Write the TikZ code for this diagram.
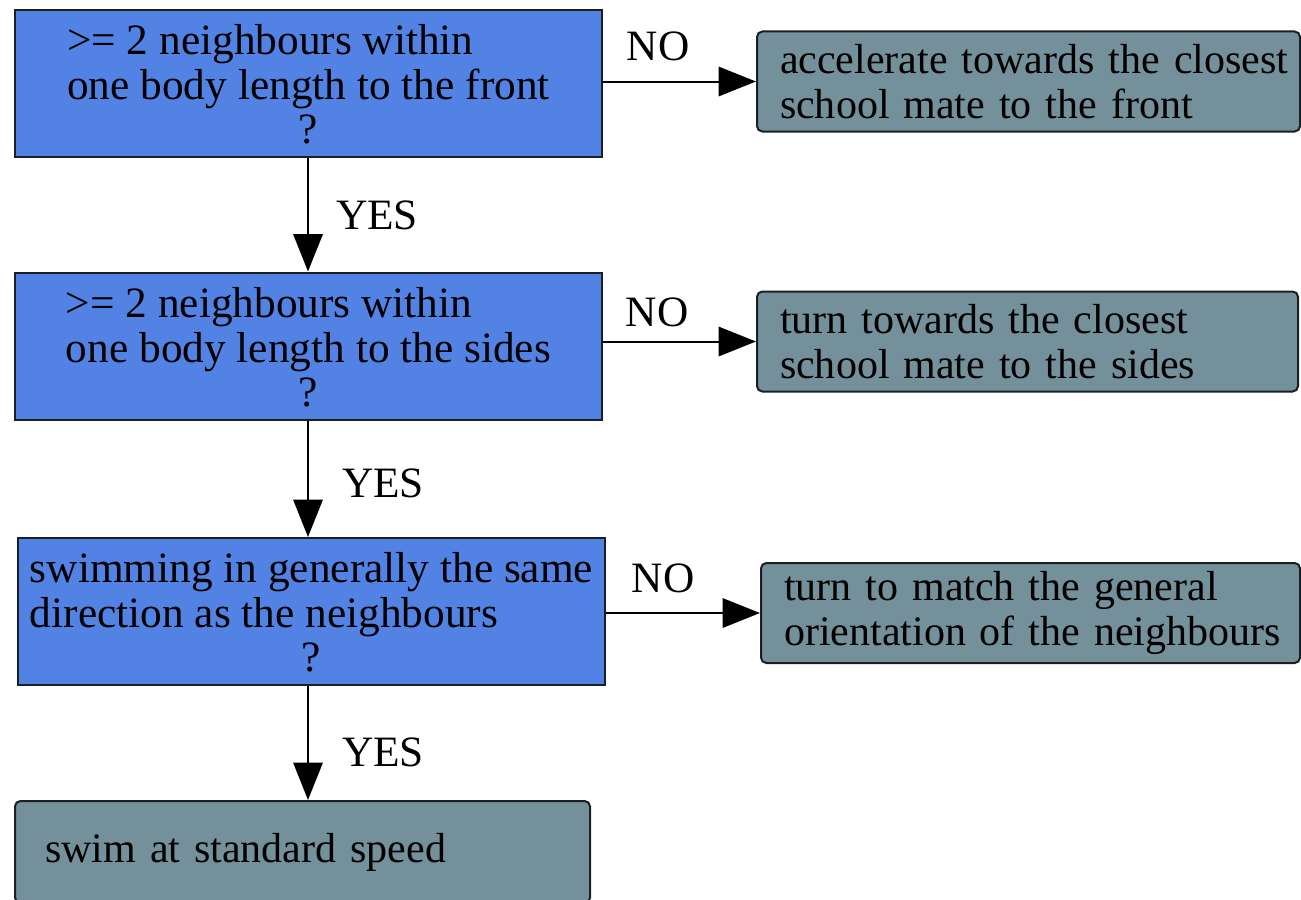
\documentclass[tikz,border=0pt]{standalone}
\usepackage{fontspec}
\setmainfont{Liberation Serif}
\usetikzlibrary{arrows.meta}
\newdimen\pxu \pxu=0.75pt
\definecolor{decblue}{HTML}{5282E3}
\definecolor{actgray}{HTML}{74909A}
\definecolor{edge}{HTML}{1A1F24}
\begin{document}
\begin{tikzpicture}[x=0.75pt,y=-0.75pt,
  every node/.style={font=\fontsize{32.5}{34}\selectfont},
  decision/.style={draw=edge, line width=1.5pt, fill=decblue, inner sep=0pt,
    minimum width=587\pxu, minimum height=147\pxu, align=center},
  action/.style={draw=edge, line width=1.5pt, fill=actgray, rounded corners=4pt,
    inner ysep=0pt, inner xsep=23\pxu, minimum height=100\pxu, align=left,
    font=\fontsize{31.5}{34}\selectfont},
  flow/.style={line width=1.5pt, -{Triangle[length=28pt,width=22pt]}},
  lbl/.style={inner sep=0pt}]
\useasboundingbox (0,0) rectangle (1301,899);

% decisions
\node[decision] (q1) at (308.5,83.5)
  {\begin{tabular}{@{}l@{}}>= 2 neighbours within\\one body length to the front\end{tabular}\\?};
\node[decision] (q2) at (308.5,346)
  {\begin{tabular}{@{}l@{}}>= 2 neighbours within\\one body length to the sides\end{tabular}\\?};
\node[decision] (q3) at (311.5,611.5)
  {\begin{tabular}{@{}l@{}}swimming in generally the same\\direction as the neighbours\end{tabular}\\?};

% actions
\node[action, text width=497\pxu] (a1) at (1028.5,81.5)
  {\mbox{accelerate towards the closest}\\\mbox{school mate to the front}};
\node[action, text width=495\pxu] (a2) at (1027.5,341.5)
  {\mbox{turn towards the closest}\\\mbox{school mate to the sides}};
\node[action, text width=493\pxu] (a3) at (1030.5,613)
  {\mbox{turn to match the general}\\\mbox{orientation of the neighbours}};
\node[action, inner xsep=30\pxu, text width=515\pxu, minimum height=102\pxu] (a4) at (302.5,852)
  {\mbox{swim at standard speed}};

% connectors
\coordinate (axis) at (308,0);
\draw[flow] (q1.south -| axis) -- (q2.north -| axis);
\draw[flow] (q2.south -| axis) -- (q3.north -| axis);
\draw[flow] (q3.south -| axis) -- (a4.north -| axis);
\draw[flow] (q1.east |- a1.west) -- (a1.west);
\draw[flow] (q2.east |- a2.west) -- (a2.west);
\draw[flow] (q3.east |- a3.west) -- (a3.west);

% branch labels
\node[lbl] (no1) at (658,46) {NO};
\node[lbl] (no2) at (657,312) {NO};
\node[lbl] (no3) at (663,578) {NO};
\node[lbl] (yes1) at (377,215) {YES};
\node[lbl] (yes2) at (383,483) {YES};
\node[lbl] (yes3) at (383,752) {YES};
\end{tikzpicture}
\end{document}
